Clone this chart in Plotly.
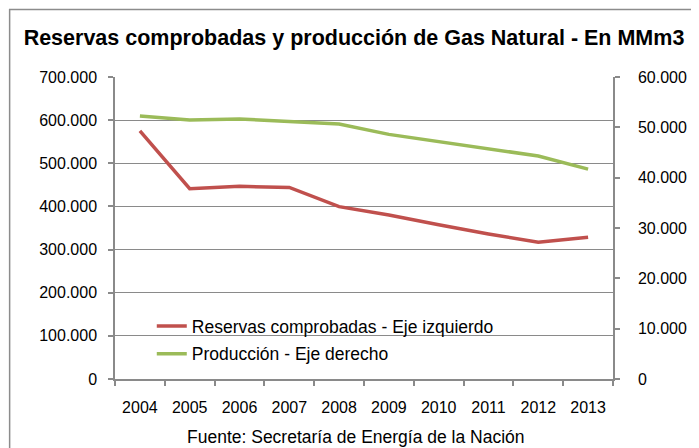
import plotly.graph_objects as go

years = ["2004", "2005", "2006", "2007", "2008", "2009", "2010", "2011", "2012", "2013"]
reservas = [575000, 441000, 446500, 444000, 399500, 380000, 357500, 336000, 317000, 328500]
produccion = [52250, 51450, 51650, 51200, 50650, 48600, 47150, 45600, 44300, 41700]

left_ticks = [0, 100000, 200000, 300000, 400000, 500000, 600000, 700000]
left_text = ["0", "100.000", "200.000", "300.000", "400.000", "500.000", "600.000", "700.000"]
right_ticks = [0, 10000, 20000, 30000, 40000, 50000, 60000]
right_text = ["0", "10.000", "20.000", "30.000", "40.000", "50.000", "60.000"]

title_text = "<b>Reservas comprobadas y producción de Gas Natural - En MMm3</b>"
source_text = "Fuente: Secretaría de Energía de la Nación"

FONT = "Liberation Sans, Arial, sans-serif"
GRID = "#8a8a8a"

fig = go.Figure()
fig.add_trace(go.Scatter(
    x=years, y=reservas, mode="lines", name="Reservas comprobadas - Eje izquierdo",
    line=dict(color="#C0504D", width=3.5), legendgroup="a", yaxis="y"))
fig.add_trace(go.Scatter(
    x=years, y=produccion, mode="lines", name="Producción - Eje derecho",
    line=dict(color="#9BBB59", width=3.5), legendgroup="b", yaxis="y2"))

# page has an 8px body margin; coordinates below are page pixels
OFF = 8
W, H = 699 - OFF, 448 - OFF
PL, PR, PT, PB = 115, 616, 77, 379  # plot area in page pixels
L, R, T, B = PL - OFF, W - (PR - OFF), PT - OFF, H - (PB - OFF)
pw, ph = PR - PL, PB - PT

def px(x):
    return (x - PL) / pw

def py(y):
    return (PB - y) / ph

fig.update_layout(
    width=W, height=H,
    margin=dict(l=L, r=R, t=T, b=B),
    paper_bgcolor="white", plot_bgcolor="white",
    font=dict(family=FONT, size=16, color="#000000"),
    title=dict(text=title_text, x=(354 - OFF) / W, xanchor="center", xref="container",
               y=1 - (37 - OFF) / H, yanchor="middle", yref="container",
               font=dict(family=FONT, size=21.5, color="#000000")),
    showlegend=True,
    legend=dict(x=px(152), y=py(308), xanchor="left", yanchor="top",
                bgcolor="rgba(0,0,0,0)", font=dict(size=17.5, family=FONT),
                tracegroupgap=2, traceorder="grouped"),
    xaxis=dict(type="category", showgrid=False, showline=True, linecolor=GRID, linewidth=1.5,
               ticks="outside", tickson="boundaries", ticklen=5, tickcolor=GRID, tickwidth=1.5,
               ticklabelstandoff=13, range=[-0.5, 9.5], tickfont=dict(size=16)),
    yaxis=dict(range=[0, 700000], tickvals=left_ticks, ticktext=left_text,
               showgrid=True, gridcolor=GRID, gridwidth=1, zeroline=False,
               showline=True, linecolor=GRID, linewidth=1.5,
               ticks="outside", ticklen=5, tickcolor=GRID, tickwidth=1.5,
               ticklabelstandoff=8, tickfont=dict(size=16)),
    yaxis2=dict(range=[0, 60000], tickvals=right_ticks, ticktext=right_text,
                overlaying="y", side="right", showgrid=False, zeroline=False,
                showline=True, linecolor=GRID, linewidth=1.5,
                ticks="outside", ticklen=5, tickcolor=GRID, tickwidth=1.5,
                ticklabelstandoff=15, tickfont=dict(size=16)),
    shapes=[dict(type="rect", xref="paper", yref="paper",
                 x0=px(OFF + 1), x1=px(760), y0=py(9.5), y1=py(520),
                 line=dict(color="#8c8c8c", width=1.5), fillcolor="rgba(0,0,0,0)", layer="above")],
    annotations=[dict(text=source_text, xref="paper", yref="paper",
                      x=px(357), y=py(437), xanchor="center", yanchor="middle",
                      showarrow=False, font=dict(family=FONT, size=17.5, color="#000000"))],
)

fig.write_html("out.html")
